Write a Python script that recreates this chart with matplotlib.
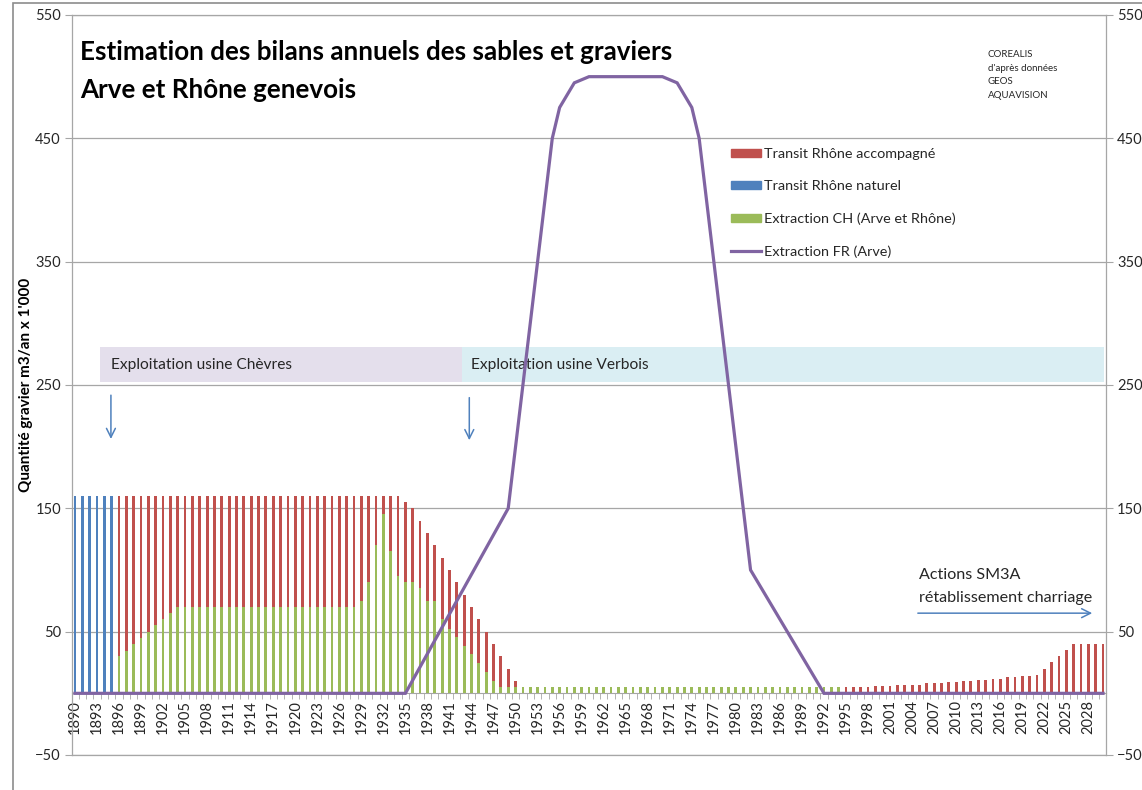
import matplotlib
matplotlib.use("Agg")
import matplotlib.pyplot as plt
from matplotlib.patches import Patch, Rectangle
from matplotlib.lines import Line2D

plt.rcParams["font.family"] = ["Lato", "DejaVu Sans"]

# Transit Rhône naturel (1890-1895)
natural_years = list(range(1890, 1896))
natural = [160, 160, 160, 160, 160, 160]

# Transit Rhône accompagné, total height of the bar (1896-2030)
accomp_years = list(range(1896, 2031))
accomp = [
    160, 160, 160, 160, 160, 160, 160, 160, 160, 160,   # 1896-1905
    160, 160, 160, 160, 160, 160, 160, 160, 160, 160,   # 1906-1915
    160, 160, 160, 160, 160, 160, 160, 160, 160, 160,   # 1916-1925
    160, 160, 160, 160, 160, 160, 160, 160, 160,        # 1926-1934
    155, 150, 140, 130, 120, 110, 100, 90, 80, 70,      # 1935-1944
    60, 50, 40, 30, 20, 10,                             # 1945-1950
    0, 0, 0, 0, 0, 0, 0, 0, 0, 0,                       # 1951-1960
    0, 0, 0, 0, 0, 0, 0, 0, 0, 0,                       # 1961-1970
    0, 0, 0, 0, 0, 0, 0, 0, 0, 0,                       # 1971-1980
    0, 0, 0, 0, 0, 0, 0, 0, 0, 0,                       # 1981-1990
    0, 0, 0, 0,                                         # 1991-1994
    5, 5, 5, 5, 6, 6, 6, 7, 7, 7,                       # 1995-2004
    7, 8, 8, 8, 9, 9, 10, 10, 11, 11,                   # 2005-2014
    12, 12, 13, 13, 14, 14, 15, 20, 25, 30,             # 2015-2024
    35, 40, 40, 40, 40, 40,                             # 2025-2030
]

# Extraction CH (Arve et Rhône) (1896-1994)
ch_years = list(range(1896, 1995))
ch = [
    30, 34, 40, 45, 50, 55, 60, 65, 70, 70,             # 1896-1905
    70, 70, 70, 70, 70, 70, 70, 70, 70, 70,             # 1906-1915
    70, 70, 70, 70, 70, 70, 70, 70, 70, 70,             # 1916-1925
    70, 70, 70, 75, 90, 120, 145, 115, 95, 90,          # 1926-1935
    90, 85, 75, 75, 60, 52.5, 45.5, 38.5, 31.5, 24.5,   # 1936-1945
    17.5, 10, 5, 5, 5, 5, 5, 5, 5, 5,                   # 1946-1955
    5, 5, 5, 5, 5, 5, 5, 5, 5, 5,                       # 1956-1965
    5, 5, 5, 5, 5, 5, 5, 5, 5, 5,                       # 1966-1975
    5, 5, 5, 5, 5, 5, 5, 5, 5, 5,                       # 1976-1985
    5, 5, 5, 5, 5, 5, 5, 5, 5,                          # 1986-1994
]

# Extraction FR (Arve), line breakpoints
fr_years = [1890, 1935, 1949, 1955, 1956, 1958, 1960, 1970, 1972, 1974, 1975, 1982, 1992, 2030]
fr = [0, 0, 150, 450, 475, 495, 500, 500, 495, 475, 450, 100, 0, 0]

label_years = list(range(1890, 2030, 3))
y_ticks = [-50, 50, 150, 250, 350, 450, 550]

RED = "#c0504d"
BLUE = "#4f81bd"
GREEN = "#9bbb59"
PURPLE = "#8064a2"
GRID = "#a6a6a6"
TXT = "#262626"

W, H = 1142, 790
fig = plt.figure(figsize=(W / 100, H / 100), dpi=100)
ax = fig.add_axes([72 / W, 1 - 755 / H, (1106 - 72) / W, (755 - 15) / H])

bw = 0.38
ax.bar(natural_years, natural, width=bw, color=BLUE, zorder=2)
ax.bar(accomp_years, accomp, width=bw, color=RED, zorder=2)
ax.bar(ch_years, ch, width=bw, color=GREEN, zorder=3)
ax.plot(fr_years, fr, color=PURPLE, lw=2.3, zorder=4, solid_joinstyle="miter")

ax.set_xlim(1889.6, 2030.4)
ax.set_ylim(-50, 550)

# axes and grid
ax.set_yticks(y_ticks)
ax.yaxis.grid(True, color=GRID, lw=0.9)
ax.set_axisbelow(True)
ax.axhline(-50, color=GRID, lw=0.9, clip_on=False, zorder=1)
for s in ["left", "right", "top"]:
    ax.spines[s].set_color(GRID)
    ax.spines[s].set_linewidth(0.9)
ax.spines["bottom"].set_position(("data", 0))
ax.spines["bottom"].set_color(GRID)
ax.tick_params(axis="y", which="both", left=True, right=True, labelleft=True,
               labelright=True, length=5, color=GRID, labelsize=10.5,
               labelcolor=TXT, pad=3)

ax.set_xticks(label_years)
ax.set_xticklabels([str(y) for y in label_years], rotation=90, fontsize=10.5, color=TXT)
ax.set_xticks([y + 0.5 for y in range(1890, 2030)], minor=True)
ax.tick_params(axis="x", which="major", length=0, pad=5)
ax.tick_params(axis="x", which="minor", length=4, color=GRID)

# periods
ax.add_patch(Rectangle((1893.4, 252.5), 1942.65 - 1893.4, 28, facecolor="#e4dfec",
                       edgecolor="none", zorder=1))
ax.add_patch(Rectangle((1942.65, 252.5), 2030.1 - 1942.65, 28, facecolor="#daeef3",
                       edgecolor="none", zorder=1))
ax.text(1894.9, 266, "Exploitation usine Chèvres", fontsize=11.2, va="center", color=TXT, zorder=2)
ax.text(1943.9, 266, "Exploitation usine Verbois", fontsize=11.2, va="center", color=TXT, zorder=2)
ax.annotate("", xy=(1894.9, 204), xytext=(1894.9, 244),
            arrowprops=dict(arrowstyle="->", color=BLUE, lw=1.1, mutation_scale=16))
ax.annotate("", xy=(1943.7, 203), xytext=(1943.7, 242),
            arrowprops=dict(arrowstyle="->", color=BLUE, lw=1.1, mutation_scale=16))

# SM3A
ax.text(2005.0, 96, "Actions SM3A", fontsize=11.6, va="center", color=TXT)
ax.text(2005.0, 77, "rétablissement charriage", fontsize=11.6, va="center", color=TXT)
ax.annotate("", xy=(2028.9, 65), xytext=(2004.4, 65),
            arrowprops=dict(arrowstyle="->", color=BLUE, lw=1.1, mutation_scale=16))

# legend
handles = [Patch(color=RED), Patch(color=BLUE), Patch(color=GREEN),
           Line2D([], [], color=PURPLE, lw=2.3)]
labels = ["Transit Rhône accompagné", "Transit Rhône naturel",
          "Extraction CH (Arve et Rhône)", "Extraction FR (Arve)"]
ax.legend(handles, labels, loc="upper left", bbox_to_anchor=(731 / W, 1 - 148 / H),
          bbox_transform=fig.transFigure, frameon=False, fontsize=10.4,
          handlelength=2.1, handleheight=0.5, handletextpad=0.2,
          labelspacing=1.4, borderpad=0, borderaxespad=0, labelcolor=TXT)

# titles and notes
fig.text(80 / W, 1 - 52 / H, "Estimation des bilans annuels des sables et graviers",
         fontsize=18.7, fontweight="bold", va="center", color="black")
fig.text(80 / W, 1 - 90 / H, "Arve et Rhône genevois",
         fontsize=18.7, fontweight="bold", va="center", color="black")
fig.text(988 / W, 1 - 50 / H, "COREALIS\nd'après données\nGEOS\nAQUAVISION",
         fontsize=7, va="top", color=TXT, linespacing=1.65)
fig.text(26 / W, 1 - 385 / H, "Quantité gravier m3/an x 1'000", rotation=90,
         fontsize=11, fontweight="bold", va="center", ha="center", color="black")

# outer chart frame
fig.add_artist(Rectangle((13 / W, -0.01), 1.1, 1 - 3 / H + 0.01, transform=fig.transFigure,
                         facecolor="none", edgecolor="#8c8c8c", lw=1.2))

fig.savefig("out.png", dpi=100)
